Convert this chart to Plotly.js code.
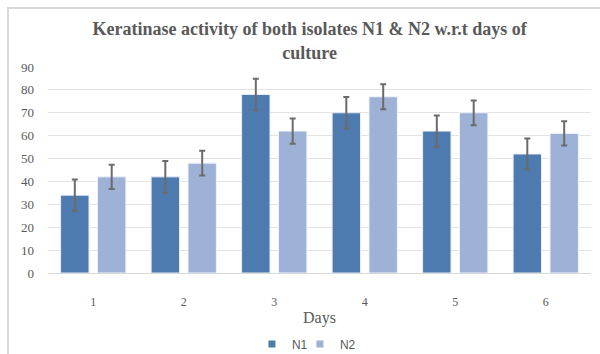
<!DOCTYPE html>
<html>
<head>
<meta charset="utf-8">
<script src="https://cdn.plot.ly/plotly-3.0.1.min.js"></script>
<style>
  html, body { margin: 0; padding: 0; background: #ffffff; }
  #wrap { position: relative; width: 600px; height: 354px; overflow: hidden; }
  #chart { width: 600px; height: 354px; }
  #frame { position: absolute; left: 7px; top: 7px; width: 600px; height: 360px;
           border-left: 2px solid #d9d9d9; border-top: 2px solid #d9d9d9; pointer-events: none; }
</style>
</head>
<body>
<div id="wrap">
  <div id="chart"></div>
  <div id="frame"></div>
</div>
<script>
const days = ['1', '2', '3', '4', '5', '6'];
const n1Values = [34, 42, 78, 70, 62, 52];
const n2Values = [42, 48, 62, 77, 70, 61];
const n1Errors = [6.8, 6.9, 6.9, 6.9, 6.8, 6.8];
const n2Errors = [5.3, 5.4, 5.5, 5.5, 5.4, 5.3];
const yTicks = [0, 10, 20, 30, 40, 50, 60, 70, 80, 90];
const seriesNames = ['N1', 'N2'];
const seriesColors = ['#4e7baf', '#9db2d6'];

const errStyle = { color: '#6b6b6b', thickness: 2, width: 3 };

const traces = [
  {
    type: 'bar', name: seriesNames[0], x: days, y: n1Values, showlegend: false, legendgroup: 'n1',
    marker: { color: seriesColors[0], line: { color: '#e8eef7', width: 1 } },
    error_y: Object.assign({ type: 'data', array: n1Errors, visible: true }, errStyle)
  },
  {
    type: 'bar', name: seriesNames[1], x: days, y: n2Values, showlegend: false, legendgroup: 'n2',
    marker: { color: seriesColors[1], line: { color: '#eef2f9', width: 1 } },
    error_y: Object.assign({ type: 'data', array: n2Errors, visible: true }, errStyle)
  },
  // legend keys: small squares as in the reference
  {
    type: 'scatter', mode: 'markers', name: seriesNames[0], legendgroup: 'n1', legend: 'legend',
    x: [days[0]], y: [null], hoverinfo: 'skip',
    marker: { symbol: 'square', size: 7, color: seriesColors[0] }
  },
  {
    type: 'scatter', mode: 'markers', name: seriesNames[1], legendgroup: 'n2', legend: 'legend2',
    x: [days[0]], y: [null], hoverinfo: 'skip',
    marker: { symbol: 'square', size: 7, color: seriesColors[1] }
  }
];

const legendFont = { family: 'Liberation Sans, Arial, sans-serif', size: 12, color: '#595959' };

const layout = {
  width: 600, height: 354,
  margin: { l: 48, r: 9, t: 67, b: 81, autoexpand: false },
  paper_bgcolor: '#ffffff', plot_bgcolor: '#ffffff',
  barmode: 'group', bargap: 0.185, bargroupgap: 0.23,
  title: {
    text: '<b>Keratinase activity of both isolates N1 &amp; N2 w.r.t days of<br>culture</b>',
    font: { family: 'Liberation Serif, Times New Roman, serif', size: 18, color: '#595959' },
    x: 0.516, xanchor: 'center', y: 0.9, yanchor: 'top', yref: 'container'
  },
  xaxis: {
    type: 'category', automargin: false,
    showgrid: false, showline: true, linecolor: '#d9d9d9', linewidth: 1,
    ticks: '', ticklabelstandoff: 18,
    tickfont: { family: 'Liberation Serif, Times New Roman, serif', size: 12, color: '#595959' },
    title: { text: 'Days', standoff: 3,
             font: { family: 'Liberation Serif, Times New Roman, serif', size: 16, color: '#595959' } }
  },
  yaxis: {
    range: [0, 90], tickvals: yTicks, ticktext: yTicks.map(String), automargin: false,
    showgrid: true, gridcolor: '#e3e3e3', gridwidth: 1,
    zeroline: true, zerolinecolor: '#d9d9d9', zerolinewidth: 1,
    showline: false, ticks: '', ticklabelstandoff: 13,
    tickfont: { family: 'Liberation Serif, Times New Roman, serif', size: 13, color: '#595959' }
  },
  showlegend: true,
  legend: {
    orientation: 'h', x: 0.3756, xanchor: 'left', y: -0.345, yanchor: 'middle',
    font: legendFont, itemwidth: 30, bgcolor: 'rgba(0,0,0,0)'
  },
  legend2: {
    orientation: 'h', x: 0.464, xanchor: 'left', y: -0.345, yanchor: 'middle',
    font: legendFont, itemwidth: 30, bgcolor: 'rgba(0,0,0,0)'
  }
};

Plotly.newPlot('chart', traces, layout, { displayModeBar: false, staticPlot: true });
</script>
</body>
</html>
